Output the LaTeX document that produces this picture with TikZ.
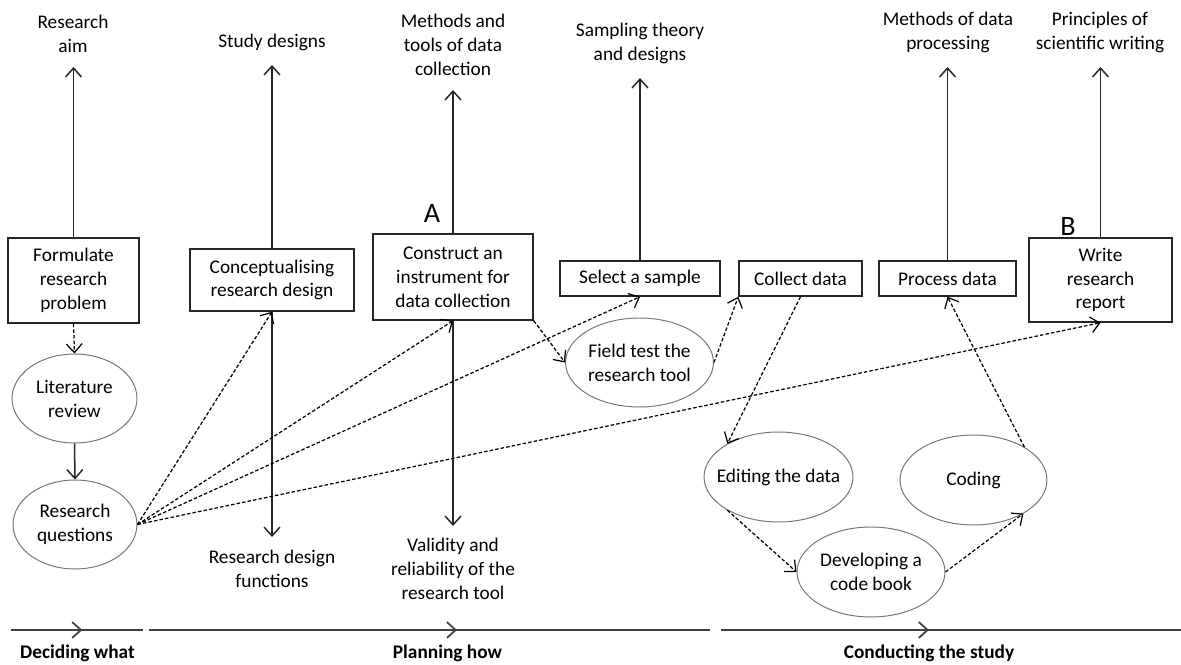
\documentclass[tikz,border=0pt]{standalone}
\usepackage{fontspec}
\setmainfont{Carlito}
\usetikzlibrary{shapes.geometric,arrows.meta,decorations.markings}

\tikzset{
  txt/.style={font=\fontsize{11}{13.6}\selectfont, text=black, align=center, inner sep=0pt},
  box/.style={txt, rectangle, draw=black!85, line width=0.85pt},
  oval/.style={ellipse, draw=black!55, line width=0.55pt, inner sep=0pt},
  phase/.style={font=\fontsize{11}{13.6}\selectfont\bfseries, text=black, inner sep=0pt, anchor=base},
  letter/.style={font=\fontsize{16}{19}\selectfont, text=black, inner sep=0pt},
  barb/.tip={Straight Barb[length=5pt,width=9pt]},
  solidarrow/.style={-barb, line width=0.85pt, draw=black!85},
  dasharrow/.style={-barb, line width=0.7pt, draw=black, dash pattern=on 2pt off 1.2pt},
  timeline/.style={line width=1.1pt, draw=black!75},
  midbarb/.style={postaction=decorate, decoration={markings,
      mark=at position #1 with {\arrow[line width=1pt]{Straight Barb[length=5pt,width=9pt]}}}},
}

\begin{document}
\begin{tikzpicture}[x=0.02cm, y=-0.02cm]
\useasboundingbox (0,0) rectangle (1181,665);

% main stages (boxes)
\node[box, minimum width=2.62cm, minimum height=1.70cm] (form) at (73.5,280.5) {Formulate\\research\\problem};
\node[box, minimum width=3.28cm, minimum height=1.24cm] (concept) at (272,280) {Conceptualising\\research design};
\node[box, minimum width=3.20cm, minimum height=1.72cm] (construct) at (453,277) {Construct an\\instrument for\\data collection};
\node[box, minimum width=3.20cm, minimum height=0.70cm] (sample) at (640,278.5) {Select a sample};
\node[box, minimum width=2.46cm, minimum height=0.70cm] (collect) at (800.5,278.5) {Collect data};
\node[box, minimum width=2.74cm, minimum height=0.70cm] (process) at (947.5,278.5) {Process data};
\node[box, minimum width=2.86cm, minimum height=1.68cm] (write) at (1100.5,280) {Write\\research\\report};

% intermediate steps (ellipses)
\node[oval, minimum width=2.50cm, minimum height=1.78cm] (lit) at (74.5,398.5) {};
\node[txt] (lit-t) at (lit.center) {Literature\\review};
\node[oval, minimum width=2.48cm, minimum height=1.78cm] (rq) at (75,524.5) {};
\node[txt] (rq-t) at (rq.center) {Research\\questions};
\node[oval, minimum width=2.96cm, minimum height=1.78cm] (field) at (639.5,362.5) {};
\node[txt] (field-t) at (field.center) {Field test the\\research tool};
\node[oval, minimum width=2.98cm, minimum height=1.80cm] (edit) at (778.5,477) {};
\node[txt] (edit-t) at (edit.center) {Editing the data};
\node[oval, minimum width=2.94cm, minimum height=1.80cm] (coding) at (973.5,480) {};
\node[txt] (coding-t) at (coding.center) {Coding};
\node[oval, minimum width=2.96cm, minimum height=1.80cm] (dev) at (871,572) {};
\node[txt] (dev-t) at (dev.center) {Developing a\\code book};

% knowledge areas above the stages
\node[txt, anchor=south] (aim) at (73,53) {Research\\aim};
\node[txt, anchor=south] (studyd) at (272,51) {Study designs};
\node[txt, anchor=south] (methods) at (453,76) {Methods and\\tools of data\\collection};
\node[txt, anchor=south] (sampling) at (640,64) {Sampling theory\\and designs};
\node[txt, anchor=south] (dproc) at (948,53) {Methods of data\\processing};
\node[txt, anchor=south] (writing) at (1100,53) {Principles of\\scientific writing};

% knowledge areas below the stages
\node[txt, anchor=north] (functions) at (272,550) {Research design\\functions};
\node[txt, anchor=north] (validity) at (453,538) {Validity and\\reliability of the\\research tool};

% markers
\node[letter] (A) at (432,213) {A};
\node[letter] (B) at (1068,226) {B};

% solid links to knowledge areas
\draw[solidarrow, shorten >=0.28cm] (form.north) -- (form.north |- aim.south);
\draw[solidarrow, shorten >=0.28cm] (concept.north) -- (concept.north |- studyd.south);
\draw[solidarrow, shorten >=0.28cm] (construct.north) -- (construct.north |- methods.south);
\draw[solidarrow, shorten >=0.28cm] (sample.north) -- (sample.north |- sampling.south);
\draw[solidarrow, shorten >=0.28cm] (process.north) -- (process.north |- dproc.south);
\draw[solidarrow, shorten >=0.28cm] (write.north) -- (write.north |- writing.south);
\draw[solidarrow, shorten >=0.26cm] (concept.south) -- (concept.south |- functions.north);
\draw[solidarrow, shorten >=0.24cm] (construct.south) -- (construct.south |- validity.north);
\draw[solidarrow] (lit.south) -- (rq.north);

% dashed process flow
\draw[dasharrow] (form.south) -- (lit.north);
\draw[dasharrow] (rq.east) -- (concept.south);
\draw[dasharrow] (rq.east) -- (construct.south);
\draw[dasharrow] (rq.east) -- (sample.south);
\draw[dasharrow] (rq.east) -- (write.south);
\draw[dasharrow] (construct.south east) -- (field.west);
\draw[dasharrow] (field.east) -- (collect.south west);
\draw[dasharrow] (collect.south) -- (edit.147);
\draw[dasharrow] (edit.213) -- (dev.west);
\draw[dasharrow] (dev.east) -- (coding.326);
\draw[dasharrow] (coding.33) -- (process.south);

% phase timeline
\coordinate (d0) at (11,630);
\coordinate (d1) at (143,630);
\coordinate (p0) at (149,630);
\coordinate (p1) at (710,630);
\coordinate (c0) at (721,630);
\coordinate (c1) at (1181,630);
\draw[timeline, midbarb=0.54] (d0) -- (d1);
\draw[timeline, midbarb=0.549] (p0) -- (p1);
\draw[timeline, midbarb=0.452] (c0) -- (c1);
\node[phase] (decide) at (77.5,659) {Deciding what};
\node[phase] (plan) at (447.5,659) {Planning how};
\node[phase] (conduct) at (929,659) {Conducting the study};
\end{tikzpicture}
\end{document}
